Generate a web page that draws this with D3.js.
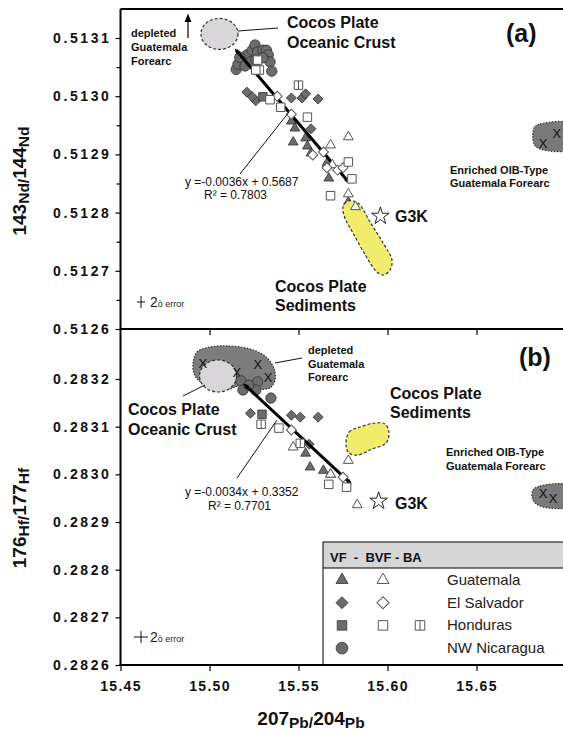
<!DOCTYPE html>
<html>
<head>
<meta charset="utf-8">
<script src="https://cdn.jsdelivr.net/npm/d3@7"></script>
<style>
  body { margin: 0; background: #fff; }
  svg { font-family: "Liberation Sans", Arial, sans-serif; }
</style>
</head>
<body>
<div id="chart"></div>
<script>
// ---- axis ticks ----
const xTicks = [15.45, 15.50, 15.55, 15.60, 15.65];
const ndTicks = [0.5126, 0.5127, 0.5128, 0.5129, 0.5130, 0.5131];
const ndMinor = [0.51265, 0.51275, 0.51285, 0.51295, 0.51305];
const hfTicks = [0.2826, 0.2827, 0.2828, 0.2829, 0.2830, 0.2831, 0.2832];

// ---- panel (a): 207Pb/204Pb vs 143Nd/144Nd ----
const ndCircles = [[15.515,0.513046],[15.516,0.513055],[15.519,0.513066],[15.521,0.513071],[15.524,0.513079],
  [15.5256,0.513088],[15.527,0.513076],[15.530,0.513079],[15.532,0.513079],[15.533,0.513071],[15.534,0.513059],
  [15.535,0.513043],[15.520,0.513052],[15.523,0.513059],[15.517,0.513067],[15.526,0.513062],[15.530,0.513066]];
const ndTriVF = [[15.546,0.512957],[15.548,0.512945],[15.547,0.512921],[15.554,0.512928],[15.555,0.512914],
  [15.557,0.512902],[15.566,0.512885],[15.567,0.512859],[15.578,0.512818]];
const ndTriBVF = [[15.568,0.512916],[15.578,0.512930],[15.578,0.512832],[15.582,0.512810],[15.569,0.512882]];
const ndDiaVF = [[15.521,0.513007],[15.526,0.512992],[15.524,0.512999],[15.546,0.512997],[15.552,0.512997],
  [15.554,0.513004],[15.561,0.512995],[15.557,0.512944]];
const ndDiaBVF = [[15.538,0.513000],[15.546,0.512969],[15.558,0.512899],[15.564,0.512904],[15.566,0.512877],
  [15.572,0.512873],[15.575,0.512877]];
const ndSqVF = [[15.530,0.512999]];
const ndSqBVF = [[15.527,0.513062],[15.528,0.513045],[15.526,0.513045],[15.534,0.512994],[15.540,0.512981],
  [15.555,0.512964],[15.578,0.512887],[15.580,0.512858],[15.568,0.512829]];
const ndSqBA = [[15.550,0.513019]];
const ndTrend = [[15.515,0.513079],[15.578,0.512853]];
const ndG3K = [[15.596,0.512794]];
const ndCrust = { cx: 15.5056, cy: 0.513107, rx: 0.0104, ry: 0.0000266 };
const ndSediments = [[15.575,0.5128096],[15.5778,0.5128199],[15.5834,0.5128165],[15.5902,0.5127838],
  [15.5975,0.5127478],[15.6025,0.5127186],[15.6014,0.5127014],[15.5975,0.5126928],[15.5935,0.5126997],
  [15.5879,0.5127254],[15.5806,0.5127649],[15.5761,0.5127907]];
const ndEnriched = [[15.6823,0.5129454],[15.6857,0.5129522],[15.7025,0.5129522],[15.7025,0.5129093],
  [15.6857,0.5129093],[15.6823,0.512918]];
const ndEnrichedX = [[15.6874,0.5129196],[15.6952,0.5129368]];

// ---- panel (b): 207Pb/204Pb vs 176Hf/177Hf ----
const hfCircles = [[15.5177,0.283196],[15.5188,0.283177],[15.527,0.283194],[15.526,0.283177],
  [15.5345,0.283160],[15.522,0.283187]];
const hfTriVF = [[15.554,0.283044],[15.5565,0.283015],[15.564,0.283008],[15.568,0.283000]];
const hfTriBVF = [[15.547,0.283057],[15.568,0.283000],[15.578,0.283029],[15.583,0.282936]];
const hfDiaVF = [[15.523,0.283128],[15.546,0.283124],[15.551,0.283120],[15.561,0.283120],[15.556,0.283063]];
const hfDiaBVF = [[15.546,0.283093],[15.575,0.282994]];
const hfSqVF = [[15.5295,0.283126]];
const hfSqBVF = [[15.539,0.283097],[15.567,0.282979],[15.577,0.282973]];
const hfSqBA = [[15.529,0.283105],[15.551,0.283065]];
const hfTrend = [[15.520,0.283187],[15.579,0.282982]];
const hfG3K = [[15.595,0.282944]];
const hfCrust = { cx: 15.5048, cy: 0.2832063, rx: 0.0104, ry: 0.0000336 };
const hfDepleted = [[15.4907,0.2832293],[15.493,0.2832566],[15.5003,0.2832671],[15.5115,0.2832692],
  [15.5228,0.2832629],[15.5312,0.2832482],[15.5362,0.283223],[15.5368,0.2831979],[15.534,0.2831811],
  [15.5256,0.283179],[15.5171,0.2831853],[15.5087,0.2831769],[15.4975,0.2831874],[15.4919,0.2832063]];
const hfDepletedX = [[15.4963,0.2832335],[15.5154,0.2832146],[15.5272,0.2832314],[15.5329,0.2832041]];
const hfSediments = [[15.5767,0.283061],[15.5784,0.2830888],[15.5846,0.2830993],[15.593,0.2831077],
  [15.5986,0.2831056],[15.6008,0.2830888],[15.5992,0.2830657],[15.5913,0.2830531],[15.5834,0.2830405],
  [15.5784,0.2830447]];
const hfEnriched = [[15.6817,0.2829671],[15.6857,0.2829755],[15.7025,0.2829755],[15.7025,0.2829335],
  [15.6857,0.2829335],[15.6817,0.2829461]];
const hfEnrichedX = [[15.6874,0.2829608],[15.693,0.2829503]];

// ---- legend ----
const legendRows = [
  { name: "Guatemala", shapes: ["tri", "tri"] },
  { name: "El Salvador", shapes: ["dia", "dia"] },
  { name: "Honduras", shapes: ["sq", "sq", "xsq"] },
  { name: "NW Nicaragua", shapes: ["circ"] }
];

const W = 563, H = 734;
const GREY = "#6c6c6c";
const svg = d3.select("#chart").append("svg").attr("width", W).attr("height", H);

const x = d3.scaleLinear().domain([15.45, 15.65]).range([120.5, 476.5]);
const yNd = d3.scaleLinear().domain([0.5126, 0.5131]).range([329, 38]);
const yHf = d3.scaleLinear().domain([0.2826, 0.2832]).range([665, 379]);
const left = x(15.45), right = x(15.72);
const topA = yNd(0.51315), midY = yNd(0.5126), bottom = yHf(0.2826);

const defs = svg.append("defs");
defs.append("clipPath").attr("id", "plot")
  .append("rect").attr("x", left).attr("y", topA).attr("width", right - left).attr("height", bottom - topA);
// small head for the trend lines, a slightly bigger one for the "depleted" arrow
[["arr", 9], ["arrS", 6]].forEach(([id, s]) => {
  defs.append("marker").attr("id", id).attr("viewBox", "0 -5 10 10")
    .attr("refX", 6).attr("markerWidth", s).attr("markerHeight", s)
    .attr("markerUnits", "userSpaceOnUse").attr("orient", "auto-start-reverse")
    .append("path").attr("d", "M0,-4L10,0L0,4Z").attr("fill", "#000");
});

const sym = {
  tri: d3.symbol(d3.symbolTriangle, 42)(),
  dia: d3.symbol(d3.symbolSquare, 50)(),
  sq: d3.symbol(d3.symbolSquare, 72)(),
  circ: d3.symbol(d3.symbolCircle, 85)()
};
const symBig = {
  tri: d3.symbol(d3.symbolTriangle, 62)(),
  dia: d3.symbol(d3.symbolSquare, 72)(),
  sq: d3.symbol(d3.symbolSquare, 90)(),
  circ: d3.symbol(d3.symbolCircle, 110)()
};

function drawSymbol(g, shape, filled, big) {
  const set = big ? symBig : sym;
  g.append("path")
    .attr("d", set[shape === "xsq" ? "sq" : shape])
    .attr("transform", shape === "dia" ? "rotate(45)" : null)
    .attr("fill", filled ? GREY : "#fff")
    .attr("stroke", filled ? "#333" : "#555")
    .attr("stroke-width", filled ? 0.8 : 1);
  if (shape === "xsq") {
    const h = Math.sqrt(big ? 90 : 72) / 2;
    g.append("line").attr("x1", 0).attr("x2", 0).attr("y1", -h).attr("y2", h)
      .attr("stroke", "#555").attr("stroke-width", 1);
  }
}

function marks(g, pts, y, shape, filled) {
  g.append("g").selectAll("g").data(pts).join("g")
    .attr("transform", d => `translate(${x(d[0])},${y(d[1])})`)
    .each(function () { drawSymbol(d3.select(this), shape, filled, false); });
}

function blob(g, pts, y, fill, dash) {
  g.append("path")
    .attr("d", d3.line().x(d => x(d[0])).y(d => y(d[1])).curve(d3.curveCatmullRomClosed.alpha(0.5))(pts))
    .attr("fill", fill).attr("stroke", "#333").attr("stroke-width", 1.2)
    .attr("stroke-dasharray", dash);
}

function ellipse(g, e, y) {
  g.append("ellipse")
    .attr("cx", x(e.cx)).attr("cy", y(e.cy))
    .attr("rx", x(e.cx + e.rx) - x(e.cx)).attr("ry", y(e.cy) - y(e.cy + e.ry))
    .attr("fill", "#d9d6da").attr("stroke", "#333").attr("stroke-width", 1.2)
    .attr("stroke-dasharray", "3,2");
}

function crosses(g, pts, y) {
  g.append("g").selectAll("text").data(pts).join("text")
    .attr("x", d => x(d[0])).attr("y", d => y(d[1]) + 5)
    .attr("text-anchor", "middle").attr("font-size", 13).attr("fill", "#111").text("X");
}

function trend(g, pts, y) {
  g.append("line")
    .attr("x1", x(pts[0][0])).attr("y1", y(pts[0][1]))
    .attr("x2", x(pts[1][0])).attr("y2", y(pts[1][1]))
    .attr("stroke", "#000").attr("stroke-width", 3)
    .attr("marker-start", "url(#arrS)").attr("marker-end", "url(#arrS)");
}

function star(g, pts, y) {
  g.append("g").selectAll("path").data(pts).join("path")
    .attr("d", d3.symbol(d3.symbolStar, 95)())
    .attr("transform", d => `translate(${x(d[0])},${y(d[1])})`)
    .attr("fill", "#fff").attr("stroke", "#222").attr("stroke-width", 1);
}

function label(lines, px, py, size, weight, lh) {
  const t = svg.append("text").attr("x", px).attr("y", py)
    .attr("font-size", size).attr("font-weight", weight).attr("fill", "#111");
  lines.forEach((s, i) => t.append("tspan").attr("x", px).attr("dy", i ? lh : 0).text(s));
  return t;
}

function leader(x1, y1, x2, y2) {
  svg.append("line").attr("x1", x1).attr("y1", y1).attr("x2", x2).attr("y2", y2)
    .attr("stroke", "#111").attr("stroke-width", 1);
}

// ---------- panel (a) ----------
const gA = svg.append("g").attr("clip-path", "url(#plot)");
blob(gA, ndEnriched, yNd, "#7a7a7a", "1.5,1.5");
crosses(gA, ndEnrichedX, yNd);
ellipse(gA, ndCrust, yNd);
marks(gA, ndTriVF, yNd, "tri", true);
blob(gA, ndSediments, yNd, "#f1ec6c", "3,2");
marks(gA, ndCircles, yNd, "circ", true);
marks(gA, ndDiaVF, yNd, "dia", true);
marks(gA, ndSqVF, yNd, "sq", true);
trend(gA, ndTrend, yNd);
marks(gA, ndTriBVF, yNd, "tri", false);
marks(gA, ndDiaBVF, yNd, "dia", false);
marks(gA, ndSqBVF, yNd, "sq", false);
marks(gA, ndSqBA, yNd, "xsq", false);
star(gA, ndG3K, yNd);

// ---------- panel (b) ----------
const gB = svg.append("g").attr("clip-path", "url(#plot)");
blob(gB, hfEnriched, yHf, "#7a7a7a", "1.5,1.5");
crosses(gB, hfEnrichedX, yHf);
blob(gB, hfDepleted, yHf, "#7d7d7d", "1.5,1.5");
ellipse(gB, hfCrust, yHf);
crosses(gB, hfDepletedX, yHf);
blob(gB, hfSediments, yHf, "#f1ec6c", "3,2");
marks(gB, hfCircles, yHf, "circ", true);
marks(gB, hfTriVF, yHf, "tri", true);
marks(gB, hfDiaVF, yHf, "dia", true);
marks(gB, hfSqVF, yHf, "sq", true);
trend(gB, hfTrend, yHf);
marks(gB, hfTriBVF, yHf, "tri", false);
marks(gB, hfDiaBVF, yHf, "dia", false);
marks(gB, hfSqBVF, yHf, "sq", false);
marks(gB, hfSqBA, yHf, "xsq", false);
star(gB, hfG3K, yHf);

// ---------- axes ----------
function styleTicks(g, spacing) {
  g.select(".domain").remove();
  g.selectAll("line").attr("stroke", "#000").attr("stroke-width", 1.2);
  g.selectAll("text").attr("font-size", 14).attr("font-weight", "bold")
    .attr("fill", "#111").style("letter-spacing", spacing)
    .attr("font-family", '"Liberation Sans", Arial, sans-serif');
}
svg.append("g").attr("transform", `translate(${left},0)`)
  .call(d3.axisLeft(yNd).tickValues(ndTicks).tickFormat(d3.format(".4f")).tickSize(5).tickPadding(4))
  .call(g => styleTicks(g, "2.6px"));
svg.append("g").attr("transform", `translate(${left},0)`)
  .call(d3.axisLeft(yNd).tickValues(ndMinor).tickFormat("").tickSize(4))
  .call(g => styleTicks(g, "0px"));
svg.append("g").attr("transform", `translate(${left},0)`)
  .call(d3.axisLeft(yHf).tickValues(hfTicks).tickFormat(d3.format(".4f")).tickSize(5).tickPadding(4))
  .call(g => styleTicks(g, "2.6px"));
svg.append("g").attr("transform", `translate(0,${midY})`)
  .call(d3.axisBottom(x).tickValues(xTicks.slice(1)).tickFormat("").tickSize(6))
  .call(g => styleTicks(g, "0px"));
svg.append("g").attr("transform", `translate(0,${bottom})`)
  .call(d3.axisBottom(x).tickValues(xTicks).tickFormat(d3.format(".2f")).tickSize(6).tickPadding(10))
  .call(g => styleTicks(g, "1.3px"));

// frame
const frame = svg.append("g").attr("stroke", "#000").attr("stroke-width", 2).attr("fill", "none");
frame.append("line").attr("x1", left).attr("x2", left).attr("y1", topA).attr("y2", bottom + 1);
frame.append("line").attr("x1", left).attr("x2", W).attr("y1", topA).attr("y2", topA);
frame.append("line").attr("x1", left).attr("x2", W).attr("y1", midY).attr("y2", midY);
frame.append("line").attr("x1", left - 1).attr("x2", W).attr("y1", bottom).attr("y2", bottom);

// ---------- axis titles ----------
function isoTitle(t, parts) {
  parts.forEach((p, i) => {
    const big = /\d/.test(p);
    t.append("tspan").attr("font-size", big ? 19 : 15.5)
      .attr("dy", i === 0 ? (big ? -2 : 0) : (big ? -3 : 3)).text(p);
  });
}
isoTitle(svg.append("text").attr("transform", "translate(28,181) rotate(-90)")
  .attr("text-anchor", "middle").attr("font-weight", "bold").attr("fill", "#111"),
  ["143", "Nd/", "144", "Nd"]);
isoTitle(svg.append("text").attr("transform", "translate(28,518) rotate(-90)")
  .attr("text-anchor", "middle").attr("font-weight", "bold").attr("fill", "#111"),
  ["176", "Hf/", "177", "Hf"]);
isoTitle(svg.append("text").attr("x", 311).attr("y", 727)
  .attr("text-anchor", "middle").attr("font-weight", "bold").attr("fill", "#111"),
  ["207", "Pb/", "204", "Pb"]);

// ---------- annotations (a) ----------
label(["(a)"], 506, 42, 25, "bold", 0);
label(["Cocos Plate", "Oceanic Crust"], 287, 28, 16, "bold", 19.5);
leader(238, 31, 278, 28);
label(["depleted", "Guatemala", "Forearc"], 131, 37, 11, "bold", 14);
svg.append("line").attr("x1", 188).attr("x2", 188).attr("y1", 38).attr("y2", 17)
  .attr("stroke", "#000").attr("stroke-width", 1.2).attr("marker-end", "url(#arr)");
label(["Cocos Plate", "Sediments"], 275, 292, 16, "bold", 19);
label(["G3K"], 395, 222, 16, "bold", 0);
label(["Enriched OIB-Type", "Guatemala Forearc"], 450, 174, 11, "bold", 13);
leader(240, 174, 289, 112);
label(["y =-0.0036x + 0.5687"], 185, 186, 12, "normal", 0);
label(["R² = 0.7803"], 204, 199, 12, "normal", 0);

// ---------- annotations (b) ----------
label(["(b)"], 519, 366, 25, "bold", 0);
label(["Cocos Plate", "Oceanic Crust"], 128, 415, 16, "bold", 19.5);
leader(183, 396, 205, 385);
label(["depleted", "Guatemala", "Forearc"], 308, 354, 11, "bold", 13.5);
leader(275, 363, 302, 358);
label(["Cocos Plate", "Sediments"], 390, 399, 16, "bold", 19);
label(["G3K"], 395, 509, 16, "bold", 0);
label(["Enriched OIB-Type", "Guatemala Forearc"], 446, 456, 11, "bold", 14);
leader(237, 478, 277, 420);
label(["y =-0.0034x + 0.3352"], 185, 496, 12, "normal", 0);
label(["R² = 0.7701"], 208, 510, 12, "normal", 0);

// ---------- 2σ error crosses ----------
function errBar(cx, cy, hw, hh) {
  svg.append("line").attr("x1", cx - hw).attr("x2", cx + hw).attr("y1", cy).attr("y2", cy)
    .attr("stroke", "#111").attr("stroke-width", 1);
  svg.append("line").attr("x1", cx).attr("x2", cx).attr("y1", cy - hh).attr("y2", cy + hh)
    .attr("stroke", "#111").attr("stroke-width", 1);
  const t = svg.append("text").attr("x", cx + 9).attr("y", cy + 5).attr("fill", "#222");
  t.append("tspan").attr("font-size", 14).text("2");
  t.append("tspan").attr("font-size", 9).text("ò error");
}
errBar(141, 302, 4, 6);
errBar(141, 637, 7, 6);

// ---------- legend ----------
const lg = svg.append("g");
lg.append("rect").attr("x", 323).attr("y", 542).attr("width", 260).attr("height", 26)
  .attr("fill", "#d6d6d6");
lg.append("rect").attr("x", 323).attr("y", 542).attr("width", 260).attr("height", bottom - 542)
  .attr("fill", "none").attr("stroke", "#000").attr("stroke-width", 1);
lg.append("line").attr("x1", 323).attr("x2", W).attr("y1", 568).attr("y2", 568)
  .attr("stroke", "#000").attr("stroke-width", 1);
lg.append("text").attr("x", 330).attr("y", 562).attr("font-size", 13).attr("font-weight", "bold")
  .attr("fill", "#111").style("white-space", "pre").text("VF  -  BVF - BA");
const colX = [342, 383, 420];
legendRows.forEach((r, i) => {
  const ry = 580 + i * 22.7;
  r.shapes.forEach((s, j) => {
    const g = lg.append("g").attr("transform", `translate(${colX[j]},${ry})`);
    drawSymbol(g, s, j === 0, true);
  });
  lg.append("text").attr("x", 447).attr("y", ry + 5).attr("font-size", 15).attr("fill", "#222").text(r.name);
});
</script>
</body>
</html>
